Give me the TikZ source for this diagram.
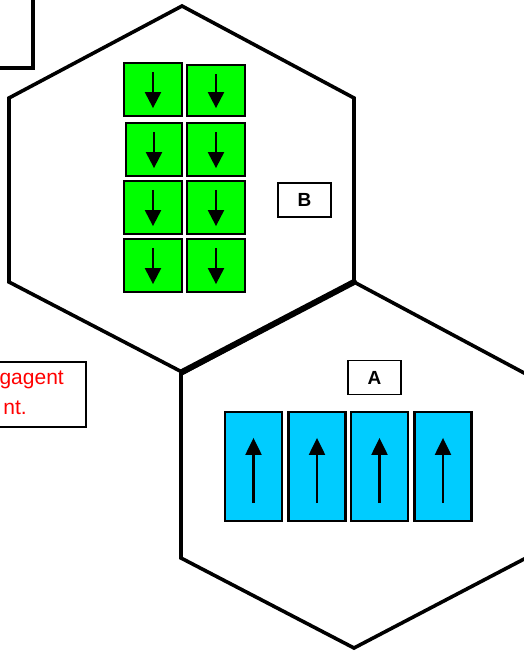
\documentclass[tikz,border=0pt]{standalone}
\usepackage{fontspec}
\setmainfont{Liberation Sans}
\usetikzlibrary{arrows.meta}
\definecolor{vgreen}{HTML}{00FF00}
\definecolor{vblue}{HTML}{00CCFF}
\begin{document}
\begin{tikzpicture}[x=1pt,y=-1pt,
  hexline/.style={line width=3.6pt, line join=miter},
  sharedline/.style={line width=6pt, line cap=round},
  gbox/.style={draw=black, line width=2.2pt, fill=vgreen, inner sep=0pt, minimum width=58pt, minimum height=53pt},
  bbox/.style={draw=black, line width=2.2pt, fill=vblue, inner sep=0pt, minimum width=57pt, minimum height=109pt},
  darr/.style={line width=2.2pt, -{Triangle[length=16pt,width=16pt]}},
  uarr/.style={line width=2.2pt, -{Triangle[length=17pt,width=16pt]}},
  lbl/.style={draw=black, line width=1.8pt, fill=white, inner sep=0pt, minimum width=53pt, minimum height=34pt, font=\fontsize{19}{21}\selectfont\bfseries},
  redtxt/.style={text=red, inner sep=0pt, font=\fontsize{21}{25}\selectfont}
]
\useasboundingbox (0,0) rectangle (524,653);

% top-left partial box
\node[draw=black, line width=4pt, anchor=south east, minimum width=120pt, minimum height=120pt, inner sep=0pt] (tl) at (35,69.5) {};

% hexagon B
\coordinate (bT) at (182,6);
\coordinate (bUR) at (354,98);
\coordinate (bLR) at (354,282);
\coordinate (bB) at (182,372);
\coordinate (bLL) at (9,282);
\coordinate (bUL) at (9,98);
\draw[hexline] (bT) -- (bUR) -- (bLR) -- (bB) -- (bLL) -- (bUL) -- cycle;

% hexagon A
\coordinate (aT) at (354,282);
\coordinate (aUR) at (526,374);
\coordinate (aLR) at (526,558);
\coordinate (aB) at (354,648);
\coordinate (aLL) at (181,558);
\coordinate (aUL) at (181,374);
\draw[hexline] (aT) -- (aUR) -- (aLR) -- (aB) -- (aLL) -- (aUL) -- cycle;

% shared edge
\draw[sharedline] (bB) -- (bLR);

% note box (red text)
\node[draw=black, line width=1.6pt, anchor=north east, minimum width=187pt, minimum height=65pt, inner sep=0pt] (note) at (87,361) {};
\node[redtxt, anchor=base east] (t1) at (64,384) {gagent};
\node[redtxt, anchor=base east] (t2) at (27,414) {nt.};

% green boxes
\node[gbox] (g11) at (153,89.5) {};
\node[gbox, minimum height=51pt] (g12) at (216,90.5) {};
\node[gbox, minimum width=56pt] (g21) at (154,149.5) {};
\node[gbox] (g22) at (216,149.5) {};
\node[gbox] (g31) at (153,207.5) {};
\node[gbox] (g32) at (216,207.5) {};
\node[gbox] (g41) at (153,265.5) {};
\node[gbox] (g42) at (216,265.5) {};
\foreach \n in {g11,g12,g21,g22,g31,g32,g41,g42}{
  \draw[darr] ([yshift=-10pt]\n.north) -- ([yshift=9pt]\n.south);
}

% blue boxes
\node[bbox] (b1) at (253.5,466.5) {};
\node[bbox] (b2) at (317,466.5) {};
\node[bbox] (b3) at (379.5,466.5) {};
\node[bbox] (b4) at (443,466.5) {};
\foreach \n in {b1,b2,b3,b4}{
  \draw[uarr] ([yshift=19pt]\n.south) -- ([yshift=-27pt]\n.north);
}

% labels
\node[lbl] (lB) at (304.5,200) {B};
\node[lbl] (lA) at (374.5,377.5) {A};
\end{tikzpicture}
\end{document}
